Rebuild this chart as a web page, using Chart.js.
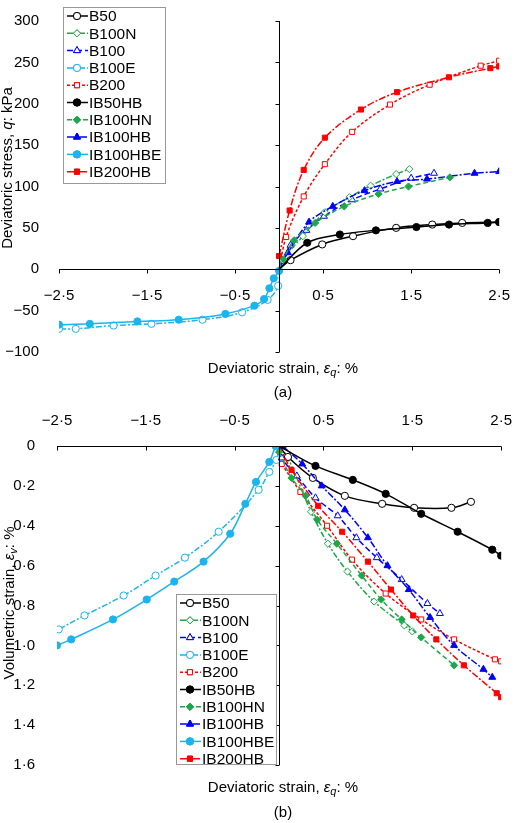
<!DOCTYPE html>
<html><head><meta charset="utf-8">
<script src="https://cdn.jsdelivr.net/npm/chart.js@4"></script>
<style>body{margin:0;background:#fff}div{position:relative}</style>
</head><body>
<div style="width:520px;height:410px"><canvas id="a"></canvas></div>
<div style="width:520px;height:413px"><canvas id="b"></canvas></div>
<script>
const seriesNames=['B50','B100N','B100','B100E','B200','IB50HB','IB100HN','IB100HB','IB100HBE','IB200HB'];
const xTicks=[-2.5,-1.5,-0.5,0.5,1.5,2.5];
const qTicks=[-100,-50,0,50,100,150,200,250,300];
const evTicks=[0,0.2,0.4,0.6,0.8,1.0,1.2,1.4,1.6];
// (a) deviatoric stress
const qB50_x=[0,0.13,0.49,0.84,1.33,1.74,2.08,2.5];
const qB50_y=[0,11,30,40,50,54,56,57];
const qB100N_x=[0,0.04,0.27,0.52,0.8,1.04,1.33,1.48];
const qB100N_y=[0,11,40,69,87,101,115,121];
const qB100_x=[0,0.04,0.13,0.31,0.51,0.83,1.15,1.5,1.76];
const qB100_y=[0,10,29,47,64,84,97,110,116];
const qB100E_x=[0,-0.01,-0.13,-0.42,-0.87,-1.45,-1.88,-2.31,-2.5];
const qB100E_y=[0,-20,-37,-52,-61,-66,-68,-72,-72];
const qB200_x=[0,0.08,0.28,0.52,0.83,1.26,1.71,2.29,2.5];
const qB200_y=[0,39,88,127,166,199,223,246,252];
const qIB50HB_x=[0,0.32,0.69,1.1,1.56,1.93,2.37,2.5];
const qIB50HB_y=[0,32,42,47,51,54,56,57];
const qIB100HN_x=[0,0.05,0.17,0.41,0.74,1.13,1.47,1.94];
const qIB100HN_y=[0,12,35,56,76,91,100,111];
const qIB100HB_x=[0,0.1,0.34,0.61,0.97,1.34,1.68,2.22,2.5];
const qIB100HB_y=[0,20,57,76,95,106,109,116,118];
const qIB100HBE_x=[0,-0.06,-0.11,-0.17,-0.28,-0.61,-1.14,-1.61,-2.15,-2.5];
const qIB100HBE_y=[-2,-11,-23,-36,-44,-54,-61,-63,-66,-67];
const qIB200HB_x=[0,0.12,0.28,0.52,0.93,1.34,1.93,2.4,2.5];
const qIB200HB_y=[16,71,120,159,193,214,232,243,245];
// (b) volumetric strain
const vB50_x=[0,0.1,0.38,0.74,1.16,1.52,1.94,2.16];
const vB50_y=[0,0.055,0.16,0.25,0.29,0.31,0.31,0.28];
const vB100N_x=[0,0.1,0.36,0.55,0.77,1.07,1.41,1.5];
const vB100N_y=[0,0.06,0.33,0.49,0.63,0.78,0.9,0.93];
const vB100_x=[0,0.03,0.2,0.41,0.66,0.87,1.1,1.38,1.67,1.81];
const vB100_y=[0,0.06,0.15,0.26,0.35,0.46,0.56,0.67,0.79,0.84];
const vB100E_x=[0,-0.03,-0.11,-0.23,-0.68,-1.06,-1.39,-1.75,-2.19,-2.48];
const vB100E_y=[0,0.07,0.13,0.22,0.43,0.56,0.65,0.75,0.85,0.92];
const vB200_x=[0.03,0.24,0.54,0.82,1.2,1.6,1.97,2.43,2.5];
const vB200_y=[0.09,0.23,0.4,0.57,0.74,0.87,0.97,1.07,1.08];
const vIB50HB_x=[0,0.41,0.83,1.2,1.6,2.01,2.4,2.5];
const vIB50HB_y=[0,0.1,0.17,0.24,0.34,0.43,0.52,0.55];
const vIB100HN_x=[0,0.14,0.3,0.43,0.65,0.93,1.15,1.38,1.6,1.97];
const vIB100HN_y=[0.03,0.16,0.25,0.37,0.49,0.65,0.77,0.87,0.96,1.1];
const vIB100HB_x=[0.04,0.26,0.48,0.74,1.0,1.22,1.46,1.7,1.97,2.3,2.4];
const vIB100HB_y=[0,0.09,0.2,0.32,0.46,0.6,0.72,0.86,1.0,1.12,1.16];
const vIB100HBE_x=[-0.04,-0.11,-0.26,-0.38,-0.55,-0.85,-1.18,-1.49,-1.87,-2.34,-2.5];
const vIB100HBE_y=[0,0.08,0.18,0.29,0.44,0.58,0.68,0.77,0.87,0.97,1.0];
const vIB200HB_x=[0,0.14,0.44,0.71,1.0,1.26,1.51,1.77,2.08,2.45,2.5];
const vIB200HB_y=[0,0.12,0.3,0.43,0.58,0.72,0.85,0.97,1.1,1.24,1.26];

const BLK='#000',GRN='#1ea64a',BLU='#0000ff',CYN='#1ab4ee',RED='#ff0000';
const styles={
 B50:{c:BLK,s:'circle',f:false,d:[]},
 B100N:{c:GRN,s:'rectRot',f:false,d:[6,2,2,2]},
 B100:{c:BLU,s:'triangle',f:false,d:[6,3]},
 B100E:{c:CYN,s:'circle',f:false,d:[6,2,2,2]},
 B200:{c:RED,s:'rect',f:false,d:[3,2]},
 IB50HB:{c:BLK,s:'circle',f:true,d:[]},
 IB100HN:{c:GRN,s:'rectRot',f:true,d:[5,3]},
 IB100HB:{c:BLU,s:'triangle',f:true,d:[7,2,2,2]},
 IB100HBE:{c:CYN,s:'circle',f:true,d:[]},
 IB200HB:{c:RED,s:'rect',f:true,d:[7,2,2,2]}
};
const qData={B50:[qB50_x,qB50_y],B100N:[qB100N_x,qB100N_y],B100:[qB100_x,qB100_y],B100E:[qB100E_x,qB100E_y],B200:[qB200_x,qB200_y],IB50HB:[qIB50HB_x,qIB50HB_y],IB100HN:[qIB100HN_x,qIB100HN_y],IB100HB:[qIB100HB_x,qIB100HB_y],IB100HBE:[qIB100HBE_x,qIB100HBE_y],IB200HB:[qIB200HB_x,qIB200HB_y]};
const vData={B50:[vB50_x,vB50_y],B100N:[vB100N_x,vB100N_y],B100:[vB100_x,vB100_y],B100E:[vB100E_x,vB100E_y],B200:[vB200_x,vB200_y],IB50HB:[vIB50HB_x,vIB50HB_y],IB100HN:[vIB100HN_x,vIB100HN_y],IB100HB:[vIB100HB_x,vIB100HB_y],IB100HBE:[vIB100HBE_x,vIB100HBE_y],IB200HB:[vIB200HB_x,vIB200HB_y]};

function rad(st){return st.s==='triangle'?4:3.6;}
function makeSets(src){
 return seriesNames.map(n=>{const st=styles[n];const [xs,ys]=src[n];
  return {label:n,data:xs.map((x,i)=>({x,y:ys[i]})),borderColor:st.c,backgroundColor:st.f?st.c:'#fff',
   pointBorderColor:st.c,pointBackgroundColor:st.f?st.c:'#fff',pointStyle:st.s,
   pointRadius:c=>{const p=c.raw;return (p&&p.x===0&&p.y===0)?0:rad(st);},pointBorderWidth:1,borderWidth:1.5,borderDash:st.d,tension:0.35,
   order:st.f?0:1};});
}
const FONT='"Liberation Sans", Arial, sans-serif';
function fmt(v){const s=Math.abs(v).toString().replace('.','·');return (v<0?'\u2212':'')+s;}
function fmt1(v){v=Math.round(v*10)/10;return v===0?'0':v.toFixed(1).replace('.','·');}
function runs(ctx,parts,x,y,align){
 let w=0;parts.forEach(p=>{ctx.font=(p[1]?'italic ':'')+(p[2]?'11px ':'15px ')+FONT;w+=ctx.measureText(p[0]).width;});
 let cx=align==='center'?x-w/2:x;
 parts.forEach(p=>{ctx.font=(p[1]?'italic ':'')+(p[2]?'11px ':'15px ')+FONT;ctx.fillText(p[0],cx,y+(p[2]?4:0));cx+=ctx.measureText(p[0]).width;});
}
function drawMarker(ctx,st,x,y){
 ctx.save();ctx.setLineDash([]);ctx.lineWidth=1;ctx.strokeStyle=st.c;ctx.fillStyle=st.f?st.c:'#fff';
 Chart.helpers.drawPoint(ctx,{pointStyle:st.s,radius:rad(st),rotation:0,borderWidth:1},x,y);
 ctx.fill();ctx.stroke();ctx.restore();
}
function decor(opt){return {id:'decor',afterDraw(ch){
 const ctx=ch.ctx,xs=ch.scales.x,ys=ch.scales.y,a=ch.chartArea;
 ctx.save();ctx.strokeStyle='#000';ctx.lineWidth=1;ctx.setLineDash([]);
 const x0=Math.round(xs.getPixelForValue(0))+0.5;
 ctx.beginPath();ctx.moveTo(x0,a.top);ctx.lineTo(x0,a.bottom);
 opt.yt.forEach(v=>{const y=Math.round(ys.getPixelForValue(v))+0.5;ctx.moveTo(x0-4,y);ctx.lineTo(x0,y);});
 const yl=opt.top?a.top+0.5:Math.round(ys.getPixelForValue(0))+0.5;
 ctx.moveTo(a.left,yl);ctx.lineTo(a.right,yl);
 xTicks.forEach(v=>{const x=Math.round(xs.getPixelForValue(v))+0.5;ctx.moveTo(x,yl);ctx.lineTo(x,yl+4);});
 ctx.stroke();
 ctx.fillStyle='#000';ctx.textBaseline='middle';
 runs(ctx,opt.xt,283,opt.xty,'center');
 ctx.font='15px '+FONT;ctx.textAlign='center';ctx.fillText(opt.lab,283,opt.laby);ctx.textAlign='left';
 ctx.save();ctx.translate(opt.ytx,opt.yty);ctx.rotate(-Math.PI/2);runs(ctx,opt.ytt,0,0,'center');ctx.restore();
 const L=opt.leg;ctx.fillStyle='#fff';ctx.fillRect(L.x,L.y,L.w,L.h);ctx.strokeStyle='#999';ctx.strokeRect(L.x+0.5,L.y+0.5,L.w,L.h);
 seriesNames.forEach((n,i)=>{const st=styles[n];const yy=L.y+9+i*17.3;
  ctx.strokeStyle=st.c;ctx.lineWidth=1.5;ctx.setLineDash(st.d);ctx.beginPath();ctx.moveTo(L.x+4,yy);ctx.lineTo(L.x+25,yy);ctx.stroke();
  drawMarker(ctx,st,L.x+14,yy);ctx.fillStyle='#000';ctx.font='15.5px '+FONT;ctx.fillText(n,L.x+26,yy+1);});
 ctx.restore();}};}
const tickFont={family:FONT,size:15};
new Chart(document.getElementById('a'),{type:'scatter',
 data:{datasets:makeSets(qData)},
 options:{responsive:true,maintainAspectRatio:false,animation:false,showLine:true,
  layout:{padding:{top:6,right:14,bottom:58,left:0}},
  plugins:{legend:{display:false},tooltip:{enabled:false}},
  scales:{
   x:{type:'linear',position:{y:0},min:-2.5,max:2.5,afterBuildTicks:s=>{s.ticks=xTicks.map(v=>({value:v}));},
    grid:{display:false},border:{display:false},ticks:{font:tickFont,color:'#000',padding:10,callback:fmt,maxRotation:0}},
   y:{type:'linear',min:-100,max:300,afterBuildTicks:s=>{s.ticks=qTicks.map(v=>({value:v}));},afterFit:s=>{s.width=59;},
    grid:{display:false},border:{display:false},ticks:{font:tickFont,color:'#000',padding:12,callback:fmt}}}},
 plugins:[decor({yt:qTicks,top:false,xt:[['Deviatoric strain, '],['ε',1],['q',1,1],[': %']],xty:369,lab:'(a)',laby:393,
  ytx:8,yty:168,ytt:[['Deviatoric stress, '],['q',1],[': kPa']],leg:{x:63,y:7,w:102,h:176}})]});
new Chart(document.getElementById('b'),{type:'scatter',
 data:{datasets:makeSets(vData)},
 options:{responsive:true,maintainAspectRatio:false,animation:false,showLine:true,
  layout:{padding:{top:0,right:11,bottom:58,left:0}},
  plugins:{legend:{display:false},tooltip:{enabled:false}},
  scales:{
   x:{type:'linear',position:'top',min:-2.5,max:2.5,afterBuildTicks:s=>{s.ticks=xTicks.map(v=>({value:v}));},afterFit:s=>{s.height=36;},
    grid:{display:false},border:{display:false},ticks:{font:tickFont,color:'#000',padding:8,callback:fmt,maxRotation:0}},
   y:{type:'linear',reverse:true,min:0,max:1.6,afterBuildTicks:s=>{s.ticks=evTicks.map(v=>({value:v}));},afterFit:s=>{s.width=57;},
    grid:{display:false},border:{display:false},ticks:{font:tickFont,color:'#000',padding:14,callback:fmt1}}}},
 plugins:[decor({yt:evTicks,top:true,xt:[['Deviatoric strain, '],['ε',1],['q',1,1],[': %']],xty:378,lab:'(b)',laby:403,
  ytx:10,yty:193,ytt:[['Volumetric strain, '],['ε',1],['v',1,1],[': %']],leg:{x:176,y:184,w:100,h:170}})]});
</script></body></html>
